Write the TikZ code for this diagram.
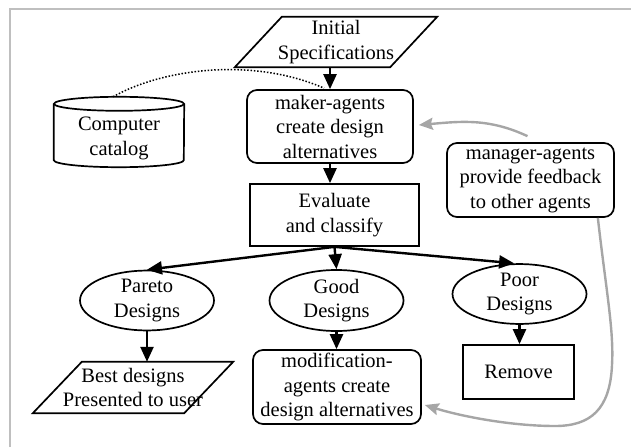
\documentclass[tikz,border=0pt]{standalone}
\usepackage{fontspec}
\setmainfont{Liberation Serif}
\usetikzlibrary{arrows.meta,calc,shapes.geometric}

\begin{document}
\begin{tikzpicture}[x=1pt,y=-1pt,
		font=\fontsize{20.5}{24.5}\selectfont,
		every node/.style={align=center,inner sep=0pt},
		outline/.style={line width=1.7pt,line join=miter},
		agentbox/.style={draw,outline,rounded corners=10pt},
		plainbox/.style={draw,outline},
		designs/.style={draw,ellipse,outline,minimum width=134pt,minimum height=51pt},
		flow/.style={-{Triangle[length=15pt,width=13pt]},line width=2.4pt},
		feedback/.style={-{Stealth[length=14pt,width=12pt,inset=2pt]},line width=2.4pt,draw=black!35,color=black!35}]
			\useasboundingbox (0,0) rectangle (631,447);
			\draw[black!25,line width=2.5pt] (10,447) -- (10,9) -- (631,9);
			
			\node (spec) at (336,42) [minimum width=202pt,minimum height=50pt] {Initial\\Specifications};
			\draw[outline] (spec.south west) -- ($(spec.north west)+(47pt,0)$) -- (spec.north east) -- ($(spec.south east)+(-47pt,0)$) -- cycle;
			
			\node (maker) at (330,126.5) [agentbox,minimum width=166pt,minimum height=73pt] {maker-agents\\create design\\alternatives};
			\node (eval) at (334.5,215) [plainbox,minimum width=169pt,minimum height=62pt] {Evaluate\\and classify};
			\node (mgr) at (530.5,180) [agentbox,minimum width=167pt,minimum height=74pt] {manager-agents\\provide feedback\\to other agents};
			
			\node (cat) at (119,138.5) [minimum width=130pt,minimum height=57pt] {Computer\\catalog};
			\draw[outline] ($(cat.north west)+(0,6pt)$) -- ($(cat.south west)+(0,7pt)$) arc[start angle=180,end angle=360,x radius=65pt,y radius=7pt] -- ($(cat.north east)+(0,6pt)$);
			\draw[outline] ($(cat.north)+(0,6pt)$) ellipse [x radius=65pt,y radius=7pt];
			\coordinate (cattop) at ($(cat.north)+(-6pt,13pt)$);
			
			\node (pareto) at (147,300.5) [designs] {Pareto\\Designs};
			\node (good) at (336.5,300.5) [designs] {Good\\Designs};
			\node (poor) at (519.5,294) [designs] {Poor\\Designs};
			
			\node (best) at (133,387.5) [minimum width=200pt,minimum height=51pt] {Best designs\\Presented to user};
			\draw[outline] (best.south west) -- ($(best.north west)+(49pt,0)$) -- (best.north east) -- ($(best.south east)+(-49pt,0)$) -- cycle;
			\node (mod) at (337,387) [agentbox,minimum width=168pt,minimum height=74pt] {modification-\\agents create\\design alternatives};
			\node (remove) at (518.5,372) [plainbox,minimum width=111pt,minimum height=54pt] {Remove};
			
			\draw[flow] (spec.south -| maker.north) -- (maker.north);
			\draw[flow] (maker.south) -- (maker.south |- eval.north);
			\draw[flow] (eval.south) -- (pareto.north);
			\draw[flow] (eval.south) -- (good.north);
			\draw[flow] (eval.south) -- (poor.100);
			\draw[flow] (pareto.south) -- (pareto.south |- best.north);
			\draw[flow] (good.south) -- (good.south |- mod.north);
			\draw[flow] (poor.south) -- (poor.south |- remove.north);
			
			\draw[line width=1.5pt,dash pattern=on 1.5pt off 1.8pt] (cattop) .. controls (160,70) and (250,56) .. ($(maker.north)+(-6pt,1pt)$);
			\draw[feedback] ($(mgr.north)+(-3pt,6pt)$) to[out=155,in=5] ($(maker.east)+(5pt,1.5pt)$);
			\draw[feedback] ($(mgr.south east)+(-17pt,0)$) .. controls (606,290) and (614,330) .. (612,365) .. controls (610,410) and (590,426) .. (555,426) .. controls (510,426) and (460,416) .. ($(mod.east)+(3pt,-18pt)$);
		\end{tikzpicture}
\end{document}
